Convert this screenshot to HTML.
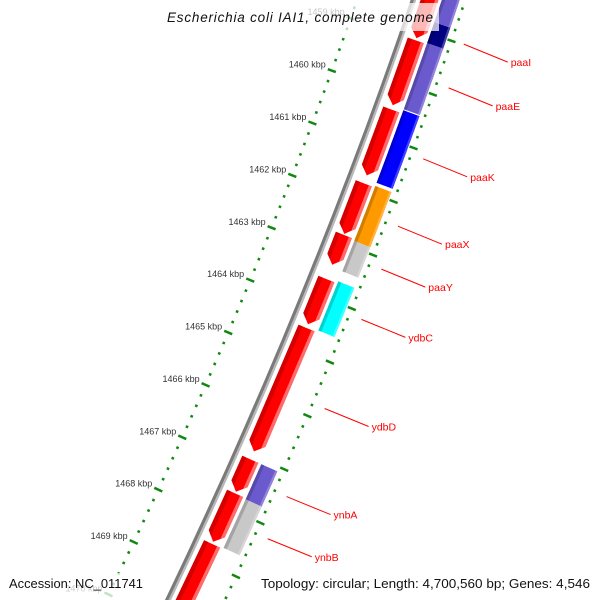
<!DOCTYPE html>
<html><head><meta charset="utf-8"><style>
html,body{margin:0;padding:0;background:#fff;width:600px;height:600px;overflow:hidden;}
svg{display:block;overflow:hidden;font-family:"Liberation Sans","DejaVu Sans",sans-serif;}
</style></head><body>
<svg id="map" width="600" height="600" viewBox="0 0 600 600" xmlns="http://www.w3.org/2000/svg">
<rect width="600" height="600" fill="#fff"/>
<g id="layer"></g>
<rect x="162" y="3" width="277" height="28" fill="#fff" fill-opacity="0.72"/>
<text x="300" y="22" text-anchor="middle" font-size="13.5" font-style="italic" fill="#111" textLength="266" lengthAdjust="spacing">Escherichia coli IAI1, complete genome</text>
<rect x="4" y="573" width="145" height="27" fill="#fff" fill-opacity="0.75"/>
<text x="9" y="588" font-size="13" fill="#111" textLength="134" lengthAdjust="spacingAndGlyphs">Accession: NC_011741</text>
<rect x="256" y="573" width="340" height="27" fill="#fff" fill-opacity="0.75"/>
<text x="261" y="588" font-size="13" fill="#111" textLength="329" lengthAdjust="spacingAndGlyphs">Topology: circular; Length: 4,700,560 bp; Genes: 4,546</text>
</svg>
<script>
// data
const redStarts=[1457.85,1458.99,1460.29,1461.68,1462.65,1463.48,1464.40,1466.87,1467.51,1468.46];
const redEnds=[1458.95,1460.21,1461.53,1462.63,1463.21,1464.33,1466.72,1467.48,1468.42,1470.6];
const boxStarts=[1457.2,1458.58,1458.97,1460.23,1461.65,1462.68,1463.44,1466.87,1467.53];
const boxEnds=[1458.58,1458.97,1460.21,1461.59,1462.68,1463.25,1464.36,1467.53,1468.44];
const boxColors=["#6a5acd","#000080","#6a5acd","#0000ff","#ff9900","#c8c8c8","#00ffff","#6a5acd","#c8c8c8"];
const labelNames=["paaI","paaE","paaK","paaX","paaY","ydbC","ydbD","ynbA","ynbB"];
const labelGeneTrack=["box","box","box","box","box","box","red","box","box"];
const labelGeneIndex=[1,2,3,4,5,6,6,7,8];
const tickLabels=[1459,1460,1461,1462,1463,1464,1465,1466,1467,1468,1469,1470];

// geometry: smooth backbone curve
function xb(s){return 414-0.34*s-0.000115*s*s;}
function kk(s){return 0.34+0.00023*s;}
function pt(s,h){return [xb(s)+h, s+kk(s)*h];}
function S(k){return 89+(k-1460)*53;}
const NS="http://www.w3.org/2000/svg";
const layer=document.getElementById('layer');
function poly(pts,fill,name){const p=document.createElementNS(NS,'polygon');
p.setAttribute('points',pts.map(q=>q[0].toFixed(1)+','+q[1].toFixed(1)).join(' '));
p.setAttribute('fill',fill);


layer.appendChild(p);return p;}
function band(s1,s2,a,b,fill,name){const pts=[];const n=16;
for(let i=0;i<=n;i++)pts.push(pt(s1+(s2-s1)*i/n,a));
for(let i=n;i>=0;i--)pts.push(pt(s1+(s2-s1)*i/n,b));
return poly(pts,fill,name);}
function line(p1,p2,col,w,name){const l=document.createElementNS(NS,'line');
l.setAttribute('x1',p1[0]);l.setAttribute('y1',p1[1]);l.setAttribute('x2',p2[0]);l.setAttribute('y2',p2[1]);
l.setAttribute('stroke',col);l.setAttribute('stroke-width',w);


layer.appendChild(l);}
function text(x,y,str,size,fill,anchor,name){const t=document.createElementNS(NS,'text');
t.setAttribute('x',x);t.setAttribute('y',y);t.setAttribute('font-size',size);t.setAttribute('fill',fill);
t.setAttribute('text-anchor',anchor);t.textContent=str;


layer.appendChild(t);}

// backbone
band(-40,640,-3,0,"#7a7a7a","backbone-dark");
band(-40,640,0,2,"#b8b8b8","backbone-light");

// rulers
const LH=-51, RH=46;
for(let i=0;i<=80;i++){const k=1457+i*0.2;const s=S(k);const major=Math.abs(k-Math.round(k))<0.01;
 if(s<-30||s>640)continue;
 if(major){line(pt(s,LH-4),pt(s,LH+4),"#118811",2.5,"left-ruler-major-tick");}
 else{line(pt(s,LH-1.2),pt(s,LH+1.2),"#118811",2.5,"left-ruler-minor-tick");}
}
for(let i=0;i<=80;i++){const k=1457.79+i*0.2;const s=S(k);const major=(i%5)==0;
 if(s<-30||s>640)continue;
 if(major){line(pt(s,RH-4),pt(s,RH+4),"#118811",2.5,"right-ruler-major-tick");}
 else{line(pt(s,RH-1.2),pt(s,RH+1.2),"#118811",2.5,"right-ruler-minor-tick");}
}
tickLabels.forEach(k=>{const p=pt(S(k),LH);text((p[0]-6).toFixed(1),(p[1]-3).toFixed(1),k+" kbp",9,"#333","end","tick-label-"+k);});

// red arrows
const h0=6,h1=22,hm=14,AH=8;
function arrowStrip(s1,s2,a,b,fill,name){
 const tipS=h=>s2-AH*Math.abs(h-hm)/(hm-h0);
 const pts=[pt(s1,a),pt(s1,b),pt(Math.max(s1,tipS(b)),b)];
 if(a<hm&&b>hm)pts.push(pt(s2,hm));
 pts.push(pt(Math.max(s1,tipS(a)),a));
 poly(pts,fill,name);}
redStarts.forEach((st,i)=>{const s1=S(st),s2=Math.min(S(redEnds[i]),700);
 arrowStrip(s1,s2,h0,h1,"#ff0000","red-gene-"+(i+1));
 arrowStrip(s1,s2,h0,h0+4,"#d40000","red-gene-shade-"+(i+1));
 arrowStrip(s1,s2,h1-3,h1,"#ff6b6b","red-gene-highlight-"+(i+1));
});
// colored boxes
function shade(hex,f){const n=parseInt(hex.slice(1),16);let r=n>>16,g=(n>>8)&255,b=n&255;
 const c=v=>Math.max(0,Math.min(255,Math.round(f>1?v+(255-v)*(f-1):v*f)));return "rgb("+c(r)+","+c(g)+","+c(b)+")";}
const g0=25,g1=41;
boxStarts.forEach((st,i)=>{const s1=S(st),s2=S(boxEnds[i]);
 band(s1,s2,g0,g1,boxColors[i],"feature-box-"+(i+1));
 band(s1,s2,g0,g0+3,shade(boxColors[i],0.82),"feature-box-shade-"+(i+1));
 band(s1,s2,g1-2,g1,shade(boxColors[i],1.25),"feature-box-highlight-"+(i+1));
});
// labels
labelNames.forEach((nm,i)=>{const idx=labelGeneIndex[i];
 const st=labelGeneTrack[i]=="red"?redStarts[idx]:boxStarts[idx];
 const en=labelGeneTrack[i]=="red"?redEnds[idx]:boxEnds[idx];
 const s=S((st+en)/2);const p=pt(s,58);const e=[p[0]+44,p[1]+18];
 line(p,e,"#ff0000",1,"label-line-"+nm);
 text((e[0]+3).toFixed(1),(e[1]+4).toFixed(1),nm,10.5,"#ff0000","start","gene-label-"+nm);
});
</script>
</body></html>
